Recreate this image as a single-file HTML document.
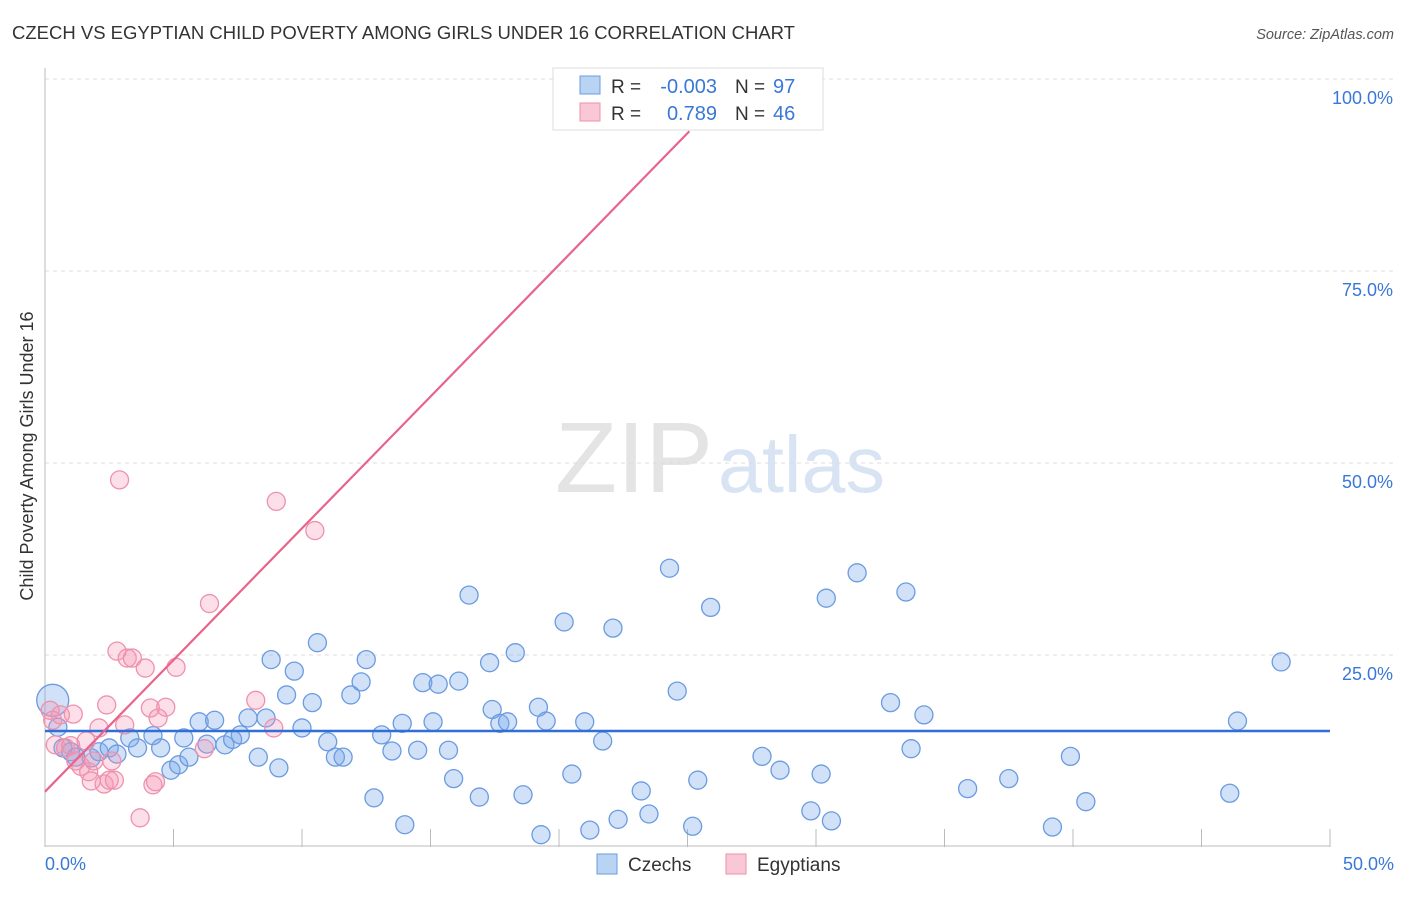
<!DOCTYPE html>
<html><head><meta charset="utf-8"><style>
body{margin:0;background:#fff;font-family:"Liberation Sans",sans-serif}
svg text{font-family:"Liberation Sans",sans-serif}
</style></head><body>
<svg id="c" width="1406" height="892">
<text x="12" y="39" font-size="18.5" fill="#333">CZECH VS EGYPTIAN CHILD POVERTY AMONG GIRLS UNDER 16 CORRELATION CHART</text>
<text x="1394" y="39" font-size="14.5" fill="#555" font-style="italic" text-anchor="end">Source: ZipAtlas.com</text>
<text x="33" y="456" font-size="18" fill="#333" text-anchor="middle" transform="rotate(-90 33 456)">Child Poverty Among Girls Under 16</text>
<text x="555" y="492" font-size="100" fill="#e4e4e4" font-family="Liberation Serif" textLength="158" lengthAdjust="spacingAndGlyphs">ZIP</text>
<text x="718" y="492" font-size="80" fill="#d8e4f4" textLength="167" lengthAdjust="spacingAndGlyphs">atlas</text>
<g id="grid"></g><g id="pts"></g><g id="lines"></g>
<g>
<rect x="553" y="68" width="270" height="62" fill="#fff" stroke="#ddd"/>
<rect x="580" y="76" width="20" height="18" fill="#b9d3f3" stroke="#6b9be0"/>
<rect x="580" y="103" width="20" height="18" fill="#f9c7d6" stroke="#ee91ad"/>
<text x="611" y="93" font-size="19" fill="#333">R =</text>
<text x="717" y="93" font-size="20" fill="#3a78d8" text-anchor="end">-0.003</text>
<text x="735" y="93" font-size="19" fill="#333">N =</text>
<text x="773" y="93" font-size="20" fill="#3a78d8">97</text>
<text x="611" y="120" font-size="19" fill="#333">R =</text>
<text x="717" y="120" font-size="20" fill="#3a78d8" text-anchor="end">0.789</text>
<text x="735" y="120" font-size="19" fill="#333">N =</text>
<text x="773" y="120" font-size="20" fill="#3a78d8">46</text>
</g>
<g>
<rect x="597" y="854" width="20" height="20" fill="#b9d3f3" stroke="#6b9be0"/>
<text x="628" y="871" font-size="19" fill="#333">Czechs</text>
<rect x="726" y="854" width="20" height="20" fill="#f9c7d6" stroke="#ee91ad"/>
<text x="757" y="871" font-size="19" fill="#333">Egyptians</text>
</g>
</svg>
<script>
const xTicks=[0,5,10,15,20,25,30,35,40,45,50];
const yTicks=[25,50,75,100];
const czechX=[0.3,0.5,0.7,1.0,1.2,1.8,2.1,2.5,2.8,3.3,3.6,4.2,4.5,4.9,5.2,5.4,5.6,6.0,6.3,6.6,7.0,7.3,7.6,7.9,8.3,8.6,8.8,9.1,9.4,9.7,10.0,10.4,10.6,11.0,11.3,11.6,11.9,12.3,12.5,12.8,13.1,13.5,13.9,14.0,14.5,14.7,15.1,15.3,15.7,15.9,16.1,16.5,16.9,17.3,17.4,17.7,18.0,18.3,18.6,19.2,19.3,19.5,20.2,20.5,21.0,21.2,21.7,22.1,22.3,23.2,23.5,24.3,24.6,25.2,25.4,25.9,27.9,28.6,29.8,30.2,30.4,30.6,31.6,32.9,33.5,33.7,34.2,35.9,37.5,39.2,39.9,40.5,46.1,46.4,48.1];
const czechY=[19.1,15.6,12.9,12.4,11.7,11.6,12.4,12.9,12.1,14.2,12.9,14.5,12.9,10.0,10.7,14.2,11.7,16.3,13.4,16.5,13.3,14.0,14.6,16.8,11.7,16.8,24.4,10.3,19.8,22.9,15.5,18.8,26.6,13.7,11.7,11.7,19.8,21.5,24.4,6.4,14.6,12.5,16.1,2.9,12.6,21.4,16.3,21.2,12.6,8.9,21.6,32.8,6.5,24.0,17.9,16.1,16.3,25.3,6.8,18.2,1.6,16.4,29.3,9.5,16.3,2.2,13.8,28.5,3.6,7.3,4.3,36.3,20.3,2.7,8.7,31.2,11.8,10.0,4.7,9.5,32.4,3.4,35.7,18.8,33.2,12.8,17.2,7.6,8.9,2.6,11.8,5.9,7.0,16.4,24.1];
const czechR=[16];
const egyX=[0.2,0.3,0.4,0.6,0.8,1.0,1.1,1.2,1.4,1.6,1.7,1.8,1.9,2.1,2.3,2.4,2.5,2.6,2.7,2.8,3.1,3.2,3.4,3.7,3.9,4.1,4.2,4.3,4.4,4.7,5.1,6.2,6.4,8.2,8.9,9.0,10.5,20.4,2.9];
const egyY=[17.8,16.5,13.3,17.2,12.9,13.2,17.3,11.2,10.5,13.8,9.8,8.6,11.2,15.5,8.2,18.5,8.7,11.2,8.7,25.5,15.9,24.6,24.6,3.8,23.3,18.1,8.1,8.5,16.8,18.2,23.4,12.8,31.7,19.1,15.5,45.0,41.2,100.0,47.8];
const czechFit=[15.1,15.1];
const egyFit=[7.2,3.43,93.2];
const X=v=>45+v*25.7, Y=v=>847-v*7.68;
const NS='http://www.w3.org/2000/svg';
function mk(t,a,p){const e=document.createElementNS(NS,t);for(const k in a)e.setAttribute(k,a[k]);p.appendChild(e);return e;}
const g=document.getElementById('grid');
yTicks.forEach(t=>{
 const l=mk('line',{x1:45,x2:1394,y1:Y(t),y2:Y(t),stroke:'#ddd','stroke-dasharray':'4,4'},g);
 
 
 const tx=mk('text',{x:1393,y:Y(t)+25,'font-size':18,fill:'#3a78d8','text-anchor':'end'},g);tx.textContent=t.toFixed(1)+'%';
 
 
});
mk('line',{x1:45,x2:45,y1:68,y2:847,stroke:'#bbb'},g);
mk('line',{x1:45,x2:1330,y1:846,y2:846,stroke:'#bbb'},g);
xTicks.forEach(t=>{
 const l=mk('line',{x1:X(t),x2:X(t),y1:829,y2:847,stroke:'#bbb'},g);
 
 
});
[[0,'0.0%','start',45],[50,'50.0%','end',1394]].forEach(a=>{
 const tx=mk('text',{x:a[3],y:870,'font-size':18,fill:'#3a78d8','text-anchor':a[2]},g);tx.textContent=a[1];
 
 
});
const p=document.getElementById('pts');
czechX.forEach((x,i)=>{
 const c=mk('circle',{cx:X(x),cy:Y(czechY[i]),r:i==0?czechR[0]:9,fill:'rgba(120,170,235,0.35)',stroke:'#6b9be0','stroke-width':1.3},p);
 
 
});
egyX.forEach((x,i)=>{
 const c=mk('circle',{cx:X(x),cy:Y(egyY[i]),r:9,fill:'rgba(245,150,180,0.3)',stroke:'#ee91ad','stroke-width':1.3},p);
 
 
});
const L=document.getElementById('lines');
const bl=mk('line',{x1:X(0),x2:X(50),y1:Y(czechFit[0]),y2:Y(czechFit[1]),stroke:'#2f6fd6','stroke-width':2.5},L);


const xe=(egyFit[2]-egyFit[0])/egyFit[1];
const pl=mk('line',{x1:X(0),x2:X(xe),y1:Y(egyFit[0]),y2:Y(egyFit[2]),stroke:'#e8648c','stroke-width':2.2},L);


</script>
</body></html>
